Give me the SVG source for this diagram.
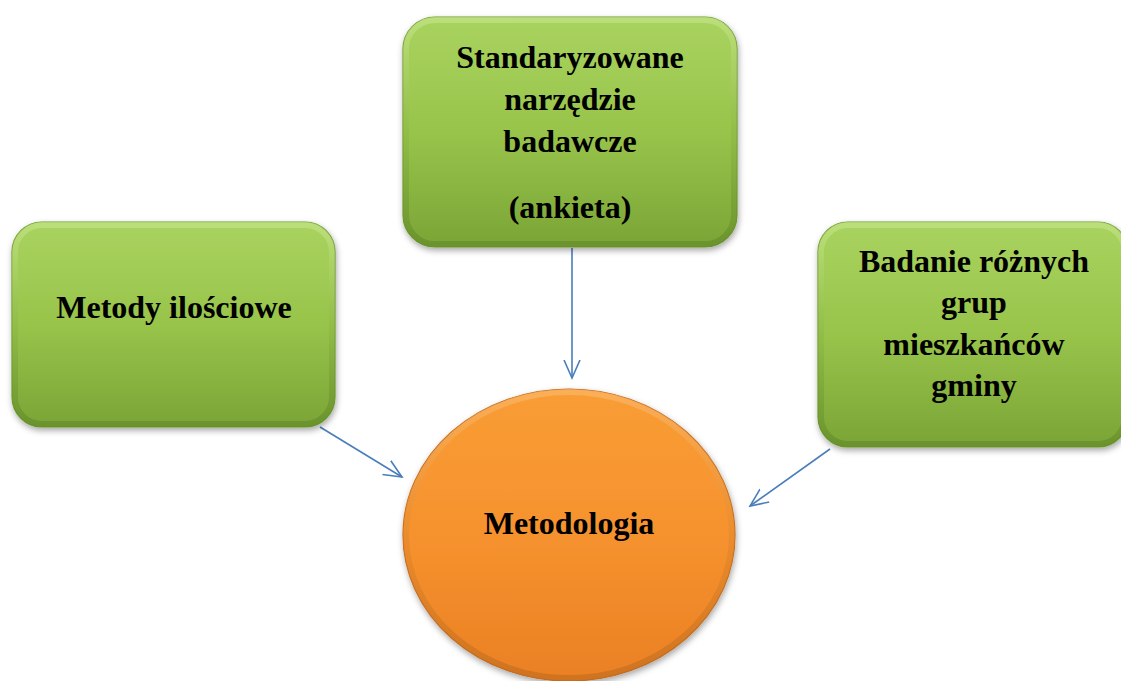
<svg xmlns="http://www.w3.org/2000/svg" width="1121" height="681" viewBox="0 0 1121 681">
<defs>
<style>
.lbl{font-family:"Liberation Serif","Times New Roman",serif;font-weight:bold;font-size:32px;fill:#000;text-anchor:middle}
.box{fill:url(#gGreen);stroke:#6f9a2e;stroke-width:1.2;filter:url(#sh)}
.bev{fill:none;stroke:url(#gBevel);stroke-width:6;opacity:0.55}
.conn{stroke:#4a7ebb;stroke-width:1.6;fill:none;marker-end:url(#arr)}
</style>
<linearGradient id="gGreen" x1="0" y1="0" x2="0" y2="1">
<stop offset="0" stop-color="#a9d35f"/>
<stop offset="0.5" stop-color="#98c44b"/>
<stop offset="1" stop-color="#7aa536"/>
</linearGradient>
<linearGradient id="gBevel" x1="0" y1="0" x2="0" y2="1">
<stop offset="0" stop-color="#c9e88f"/>
<stop offset="0.5" stop-color="#8cb845"/>
<stop offset="1" stop-color="#5f8526"/>
</linearGradient>
<linearGradient id="gOrange" x1="0" y1="0" x2="0" y2="1">
<stop offset="0" stop-color="#f99d35"/>
<stop offset="0.5" stop-color="#f6922e"/>
<stop offset="1" stop-color="#ea8024"/>
</linearGradient>
<linearGradient id="gOBevel" x1="0" y1="0" x2="0" y2="1">
<stop offset="0" stop-color="#fcc17a"/>
<stop offset="0.5" stop-color="#e0862a"/>
<stop offset="1" stop-color="#b5661c"/>
</linearGradient>
<filter id="sh" x="-10%" y="-10%" width="125%" height="130%">
<feDropShadow dx="1" dy="3" stdDeviation="3" flood-color="#000" flood-opacity="0.35"/>
</filter>
<marker id="arr" markerWidth="20" markerHeight="20" refX="18" refY="10" orient="auto" markerUnits="userSpaceOnUse">
<polyline points="0,2 18,10 0,18" fill="none" stroke="#4a7ebb" stroke-width="1.6"/>
</marker>
</defs>
<rect width="1121" height="681" fill="#fff"/>
<g id="connectors">
<line class="conn" x1="572" y1="248" x2="572" y2="378"/>
<line class="conn" x1="320" y1="427" x2="402" y2="477"/>
<line class="conn" x1="830" y1="449" x2="750" y2="506"/>
</g>
<g id="node-top">
<rect class="box" x="403" y="17" width="334" height="230" rx="32"/>
<rect class="bev" x="406" y="20" width="328" height="224" rx="29"/>
<text class="lbl" x="570" y="68">Standaryzowane</text>
<text class="lbl" x="570" y="110">narzędzie</text>
<text class="lbl" x="570" y="152">badawcze</text>
<text class="lbl" x="570" y="218">(ankieta)</text>
</g>
<g id="node-left">
<rect class="box" x="12" y="222" width="323" height="205" rx="30"/>
<rect class="bev" x="15" y="225" width="317" height="199" rx="27"/>
<text class="lbl" x="174" y="318">Metody ilościowe</text>
</g>
<g id="node-right">
<rect class="box" x="818" y="222" width="310" height="225" rx="30"/>
<rect class="bev" x="821" y="225" width="304" height="219" rx="27"/>
<text class="lbl" x="974" y="272">Badanie różnych</text>
<text class="lbl" x="974" y="313">grup</text>
<text class="lbl" x="974" y="355">mieszkańców</text>
<text class="lbl" x="974" y="396">gminy</text>
</g>
<g id="node-center">
<ellipse cx="569" cy="535" rx="166" ry="146" fill="url(#gOrange)" stroke="#c46c1f" stroke-width="1.2" filter="url(#sh)"/>
<ellipse cx="569" cy="535" rx="163" ry="143" fill="none" stroke="url(#gOBevel)" stroke-width="6" opacity="0.5"/>
<text class="lbl" x="569" y="534">Metodologia</text>
</g>
</svg>
